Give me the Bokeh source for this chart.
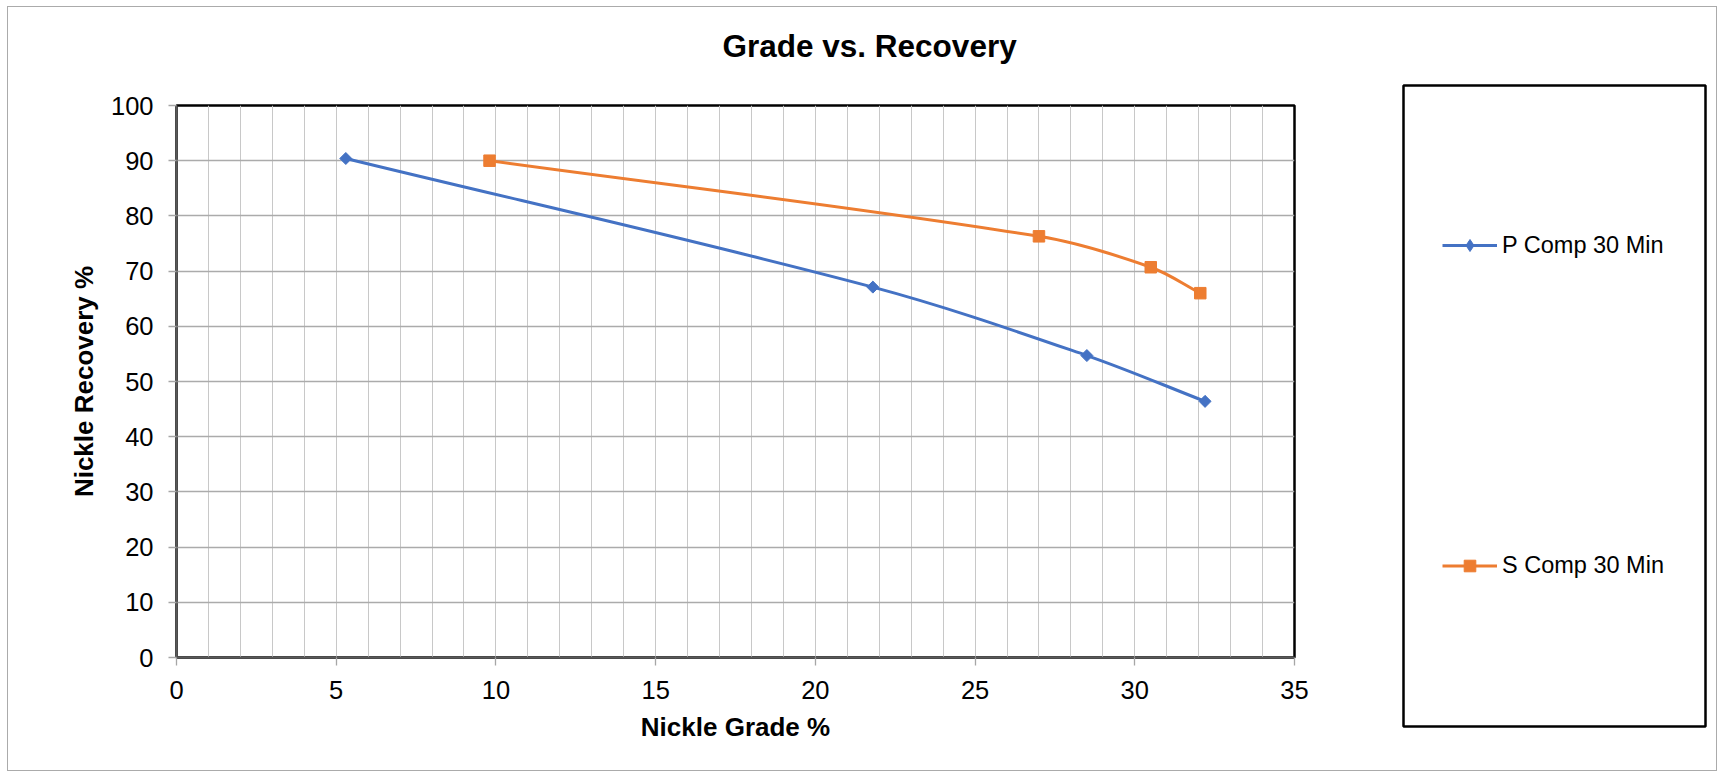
import math
from bokeh.plotting import figure
from bokeh.models import (Range1d, SingleIntervalTicker, Legend, LegendItem,
                          Title, Row, Column)
from bokeh.embed import file_html
from bokeh.resources import INLINE

# ---------------- data ----------------
title_text = "Grade vs. Recovery"
x_label = "Nickle Grade %"
y_label = "Nickle Recovery %"
series_names = ["P Comp 30 Min", "S Comp 30 Min"]

p_grade = [5.3, 21.8, 28.5, 32.2]
p_recovery = [90.4, 67.1, 54.7, 46.4]

s_grade = [9.8, 27.0, 30.5, 32.05]
s_recovery = [90.0, 76.3, 70.7, 66.0]

x_ticks = [0, 5, 10, 15, 20, 25, 30, 35]
y_ticks = [0, 10, 20, 30, 40, 50, 60, 70, 80, 90, 100]

# ---------------- styles / layout ----------------
FONT = "Liberation Sans"
BLUE = "#4472C4"
ORANGE = "#ED7D31"
X_START, X_END = 0, 35
Y_START, Y_END = 0, 100
FRAME_W, FRAME_H = 1118, 552


def smooth_segments(xs, ys, tension=1.0 / 3.0):
    """Bezier control points for a smoothed line through the data points
    (tangents are evaluated in screen proportions, like a spreadsheet's
    smoothed line)."""
    kx = FRAME_W / (X_END - X_START)
    ky = FRAME_H / (Y_END - Y_START)
    u = [x * kx for x in xs]
    v = [y * ky for y in ys]
    n = len(u)
    dirs = []
    for i in range(n):
        a = max(i - 1, 0)
        b = min(i + 1, n - 1)
        du, dv = u[b] - u[a], v[b] - v[a]
        d = math.hypot(du, dv) or 1.0
        dirs.append((du / d, dv / d))
    out = dict(x0=[], y0=[], x1=[], y1=[], cx0=[], cy0=[], cx1=[], cy1=[])
    for i in range(n - 1):
        seg = math.hypot(u[i + 1] - u[i], v[i + 1] - v[i]) * tension
        out["x0"].append(xs[i])
        out["y0"].append(ys[i])
        out["x1"].append(xs[i + 1])
        out["y1"].append(ys[i + 1])
        out["cx0"].append((u[i] + dirs[i][0] * seg) / kx)
        out["cy0"].append((v[i] + dirs[i][1] * seg) / ky)
        out["cx1"].append((u[i + 1] - dirs[i + 1][0] * seg) / kx)
        out["cy1"].append((v[i + 1] - dirs[i + 1][1] * seg) / ky)
    return out


# ---------------- chart ----------------
p = figure(width=1360, height=763, output_backend="svg", toolbar_location=None,
           title=None,
           x_range=Range1d(X_START, X_END), y_range=Range1d(Y_START, Y_END),
           min_border_left=168, min_border_right=74,
           min_border_top=98, min_border_bottom=113,
           background_fill_color="white", border_fill_color="white",
           outline_line_color="black", outline_line_width=2.5)

xax = p.below[0]
yax = p.left[0]

# blank spacer panel between the plot area and the title (closest to frame)
gap = Title(text=" ", standoff=39, text_font=FONT, text_font_size="1px")
p.add_layout(gap, "above")

title = Title(text=title_text, align="left", offset=546, standoff=0,
              vertical_align="bottom", text_font=FONT,
              text_font_size="31.5px", text_font_style="bold",
              text_color="black")
p.add_layout(title, "above")

# axes
for ax in (xax, yax):
    ax.axis_line_color = "#595959"
    ax.axis_line_width = 2
    ax.major_tick_out = 8
    ax.major_tick_in = 0
    ax.major_tick_line_color = "#A6A6A6"
    ax.major_tick_line_width = 1.3
    ax.minor_tick_out = 0
    ax.minor_tick_in = 0
    ax.major_label_text_font = FONT
    ax.major_label_text_font_size = "25.5px"
    ax.major_label_text_color = "black"
    ax.axis_label_text_font = FONT
    ax.axis_label_text_font_size = "26px"
    ax.axis_label_text_font_style = "bold"
    ax.axis_label_text_color = "black"

xax.ticker = x_ticks
yax.ticker = y_ticks
xax.axis_label = x_label
yax.axis_label = y_label
xax.major_label_standoff = 15
yax.major_label_standoff = 15
xax.axis_label_standoff = 10
yax.axis_label_standoff = 9

# grids
p.xgrid.ticker = SingleIntervalTicker(interval=1)
p.xgrid.grid_line_color = "#C8C8C8"
p.xgrid.grid_line_width = 1
p.ygrid.ticker = y_ticks
p.ygrid.grid_line_color = "#ABABAB"
p.ygrid.grid_line_width = 1.5

# series
ps = smooth_segments(p_grade, p_recovery)
ss = smooth_segments(s_grade, s_recovery)

p.bezier(x0=ps["x0"], y0=ps["y0"], x1=ps["x1"], y1=ps["y1"],
         cx0=ps["cx0"], cy0=ps["cy0"], cx1=ps["cx1"], cy1=ps["cy1"],
         line_color=BLUE, line_width=3)
p.scatter(p_grade, p_recovery, marker="square", angle=math.pi / 4,
          size=8.5, fill_color=BLUE, line_color=BLUE)

p.bezier(x0=ss["x0"], y0=ss["y0"], x1=ss["x1"], y1=ss["y1"],
         cx0=ss["cx0"], cy0=ss["cy0"], cx1=ss["cx1"], cy1=ss["cy1"],
         line_color=ORANGE, line_width=3)
p.scatter(s_grade, s_recovery, marker="square", size=11.5,
          fill_color=ORANGE, line_color=ORANGE)

# ---------------- legend panel (its frame is the legend box) ----------------
lg = figure(width=348, height=762, output_backend="svg", toolbar_location=None,
            title=None, x_axis_location=None, y_axis_location=None,
            x_range=Range1d(-2, -1), y_range=Range1d(-2, -1),
            min_border_left=35, min_border_right=11,
            min_border_top=77, min_border_bottom=44,
            background_fill_color="white", border_fill_color="white",
            outline_line_color="black", outline_line_width=2.5)
lg.grid.visible = False

# series samples for the legend keys (outside the visible range of this panel)
lp_line = lg.line(p_grade, p_recovery, line_color=BLUE, line_width=3)
lp_mark = lg.scatter(p_grade, p_recovery, marker="diamond",
                     fill_color=BLUE, line_color=BLUE)
ls_line = lg.line(s_grade, s_recovery, line_color=ORANGE, line_width=3)
ls_mark = lg.scatter(s_grade, s_recovery, marker="square",
                     fill_color=ORANGE, line_color=ORANGE)


def make_legend(label, renderers, gh, loc):
    return Legend(items=[LegendItem(label=label, renderers=renderers)],
                  location=loc, orientation="vertical",
                  padding=0, margin=0, spacing=0,
                  glyph_width=55, glyph_height=gh, label_height=gh,
                  label_standoff=5,
                  label_text_font=FONT, label_text_font_size="23.5px",
                  label_text_color="black",
                  border_line_alpha=0, background_fill_alpha=0)


lg.add_layout(make_legend(series_names[0], [lp_line, lp_mark], 30, (39, 466)))
lg.add_layout(make_legend(series_names[1], [ls_line, ls_mark], 29, (39, 146.5)))

legend_col = Column(children=[lg], margin=(1, 0, 0, 0))

layout = Row(children=[p, legend_col], spacing=0, margin=(7, 0, 0, 8),
             styles={"outline": "1px solid #ABABAB"})

open("out.html", "w").write(file_html(layout, INLINE))
